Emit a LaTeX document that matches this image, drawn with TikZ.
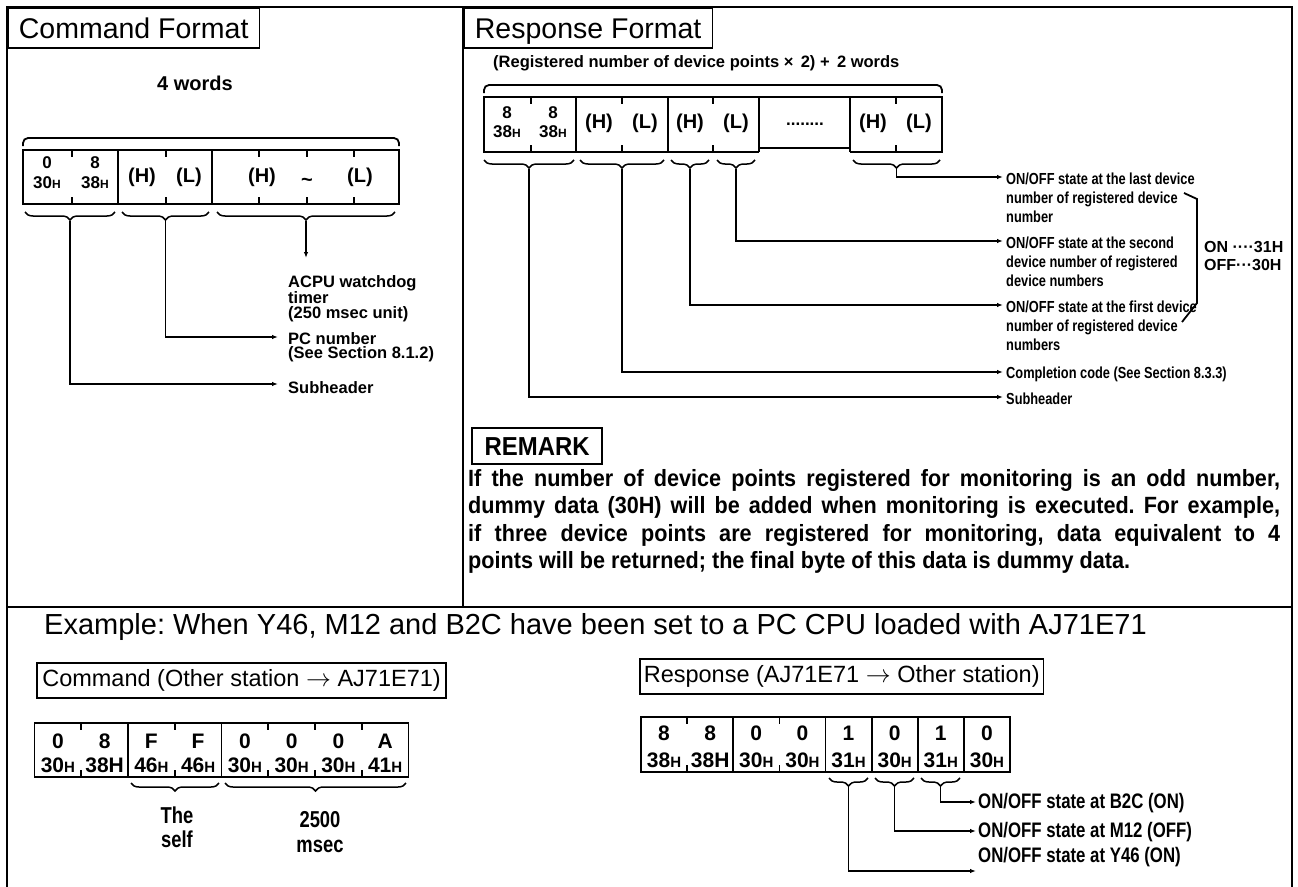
\documentclass[tikz,border=0pt]{standalone}
\usepackage{fontspec}
\setmainfont{Liberation Sans}
\newfontfamily\condfont{Liberation Sans}[FakeStretch=0.8]
\newfontfamily\remfont{Liberation Sans}[FakeStretch=0.92]
\usetikzlibrary{arrows.meta,decorations.pathreplacing}
\frenchspacing

\newcommand{\hH}{{\fontsize{12}{12}\selectfont H}}
\newcommand{\hX}{{\fontsize{15}{15}\selectfont H}}

\begin{document}
\begin{tikzpicture}[
  x=1pt, y=-1pt, >={Latex[length=6pt,width=4.5pt]},
  frame/.style={line width=2.6pt},
  tbl/.style={line width=1.8pt},
  arr/.style={->, line width=1.5pt},
  brc/.style={line width=1.5pt, decorate, decoration={brace, amplitude=8pt}},
  ttlbox/.style={draw, line width=1.8pt, inner xsep=11pt, inner ysep=0pt,
    text height=21pt, text depth=0pt, minimum height=40pt, font=\fontsize{28.5}{30}\selectfont},
  exbox/.style={draw, line width=1.6pt, inner xsep=4pt, inner ysep=0pt,
    minimum height=35pt, font=\fontsize{23.5}{25}\selectfont},
  cell/.style={inner sep=0pt, font=\bfseries\fontsize{17}{17}\selectfont},
  xcell/.style={inner sep=0pt, font=\bfseries\fontsize{21}{21}\selectfont},
  hl/.style={inner sep=0pt, font=\bfseries\fontsize{20}{20}\selectfont},
  lab/.style={inner sep=0pt, align=left, font=\bfseries\fontsize{16.5}{14.5}\selectfont},
  rlab/.style={inner sep=0pt, align=left, font=\condfont\bfseries\fontsize{16}{19}\selectfont},
  xlab/.style={inner sep=0pt, align=center, font=\condfont\bfseries\fontsize{21}{24}\selectfont},
]
\useasboundingbox (0,0) rectangle (1298,886);

% ── frame ────────────────────────────────────────────────────────────
\draw[frame] (7,7) rectangle (1292,900);
\draw[frame] (463,7) -- (463,607);
\draw[frame] (7,607) -- (1292,607);
\node[ttlbox, anchor=north west] (tCmdFmt) at (7,7) {Command Format};
\node[ttlbox, anchor=north west] (tResFmt) at (463,7) {Response Format};

% ── command format ───────────────────────────────────────────────────
\node[font=\bfseries\fontsize{20}{20}\selectfont] (nWords) at (195,83) {4 words};
\draw[tbl, rounded corners=5pt] (23,146) -- (23,138) -- (399,138) -- (399,146);
\draw[tbl] (23,150) rectangle (399,204);
\draw[tbl] (118,150) -- (118,204) (212,150) -- (212,204);
\foreach \x in {72,166,259,307,354}
  \draw[tbl] (\x,150) -- (\x,157) (\x,197) -- (\x,204);
\node[cell] (cD1) at (47,163) {0};
\node[cell] (cD2) at (95,163) {8};
\node[cell] (cX1) at (47,183) {30\hH};
\node[cell] (cX2) at (95,183) {38\hH};
\node[hl] (cH1) at (142,177) {(H)};
\node[hl] (cL1) at (189,177) {(L)};
\node[hl] (cH2) at (262,177) {(H)};
\node[hl] (cTl) at (307,182) {\textasciitilde};
\node[hl] (cL2) at (360,177) {(L)};

\draw[brc] (115,212) -- (25,212);
\draw[brc] (209,212) -- (122,212);
\draw[brc] (395,212) -- (217,212);
\coordinate (bSubC) at (70,221);
\coordinate (bPcC) at (165.5,221);
\coordinate (bWdC) at (306,221);
\coordinate (aSubC) at (278,384);
\coordinate (aPcC) at (278,337);
\coordinate (aWdC) at (306,258);

\node[lab, anchor=north west] (lWd) at (288,275) {ACPU watchdog\\timer\\(250 msec unit)};
\node[lab, anchor=north west] (lPc) at (288,332) {PC number\\(See Section 8.1.2)};
\node[lab, anchor=west] (lSubC) at (288,388) {Subheader};

\draw[arr] (bWdC) -- (aWdC);
\draw[arr] (bPcC) |- (aPcC);
\draw[arr] (bSubC) |- (aSubC);

% ── response format ──────────────────────────────────────────────────
\node[font=\bfseries\fontsize{16.5}{16.5}\selectfont, anchor=west, inner sep=0pt] (nRegW) at (493,63)
  {(Registered number of device points × \,2) + \,2 words};
\draw[tbl, rounded corners=5pt] (484,93) -- (484,85) -- (942,85) -- (942,93);
\draw[tbl] (759,152) -- (484,152) -- (484,97) -- (942,97) -- (942,152) -- (850,152);
\draw[tbl] (759,148) -- (850,148);
\draw[tbl] (576,97) -- (576,152) (668,97) -- (668,152) (759,97) -- (759,152) (850,97) -- (850,152);
\foreach \x in {531,622,713,896}
  \draw[tbl] (\x,97) -- (\x,104) (\x,145) -- (\x,152);
\node[cell] (rD1) at (507,113) {8};
\node[cell] (rD2) at (553,113) {8};
\node[cell] (rX1) at (507,132) {38\hH};
\node[cell] (rX2) at (553,132) {38\hH};
\node[hl] (rH1) at (599,123) {(H)};
\node[hl] (rL1) at (645,123) {(L)};
\node[hl] (rH2) at (690,123) {(H)};
\node[hl] (rL2) at (736,123) {(L)};
\node[cell] (rDots) at (805,124) {........};
\node[hl] (rH3) at (873,123) {(H)};
\node[hl] (rL3) at (919,123) {(L)};

\draw[brc] (574,160) -- (484,160);
\draw[brc] (664,160) -- (580,160);
\draw[brc] (709,160) -- (671,160);
\draw[brc] (755,160) -- (717,160);
\draw[brc] (940,160) -- (853,160);
\coordinate (bSubR) at (529,169);
\coordinate (bCode) at (622,169);
\coordinate (bFirst) at (690,169);
\coordinate (bSecond) at (736,169);
\coordinate (bLast) at (896.5,169);
\coordinate (aLast) at (1003,177);
\coordinate (aSecond) at (1003,241);
\coordinate (aFirst) at (1003,305);
\coordinate (aCode) at (1003,372);
\coordinate (aSubR) at (1003,397);

\node[rlab, anchor=north west] (lLast) at (1006,173)
  {ON/OFF state at the last device\\number of registered device\\number};
\node[rlab, anchor=north west] (lSecond) at (1006,237)
  {ON/OFF state at the second\\device number of registered\\device numbers};
\node[rlab, anchor=north west] (lFirst) at (1006,301)
  {ON/OFF state at the first device\\number of registered device\\numbers};
\node[rlab, anchor=west] (lCode) at (1006,374) {Completion code (See Section 8.3.3)};
\node[rlab, anchor=west] (lSubR) at (1006,399) {Subheader};

\draw[arr] (bLast) |- (aLast);
\draw[arr] (bSecond) |- (aSecond);
\draw[arr] (bFirst) |- (aFirst);
\draw[arr] (bCode) |- (aCode);
\draw[arr] (bSubR) |- (aSubR);

% bracket for the ON/OFF codes
\draw[tbl] (1184,193) -- (1197,199) -- (1197,303) -- (1182,322);
\node[font=\bfseries\fontsize{16}{16}\selectfont, anchor=west, inner sep=0pt] (nOn) at (1204,247) {ON ····31H};
\node[font=\bfseries\fontsize{16}{16}\selectfont, anchor=west, inner sep=0pt] (nOff) at (1204,265) {OFF···30H};

% ── remark ───────────────────────────────────────────────────────────
\node[draw, line width=2.4pt, anchor=north west, minimum width=130pt, minimum height=36pt,
  inner sep=0pt, font=\remfont\bfseries\fontsize{26}{26}\selectfont] (nRemark) at (471,427) {REMARK};
\node[anchor=north west, text width=812pt, align=justify, inner sep=0pt,
  font=\remfont\bfseries\fontsize{23.5}{27.5}\selectfont] (pRemark) at (468,469)
  {If the number of device points registered for monitoring is an odd number,\linebreak
   dummy data (30H) will be added when monitoring is executed. For example,\linebreak
   if three device points are registered for monitoring, data equivalent to 4\linebreak
   points will be returned; the final byte of this data is dummy data.};

% ── example ──────────────────────────────────────────────────────────
\node[font=\fontsize{29}{30}\selectfont, anchor=base west, inner sep=0pt] (tExample) at (44,634)
  {Example: When Y46, M12 and B2C have been set to a PC CPU loaded with AJ71E71};
\node[exbox, anchor=north west, inner xsep=5.5pt] (tExCmd) at (36,662)
  {Command (Other station $\rightarrow$ AJ71E71)};
\node[exbox, anchor=north west] (tExRes) at (639,658)
  {Response (AJ71E71 $\rightarrow$ Other station)};

% command bytes
\draw[tbl] (34.5,723) rectangle (408.5,777);
\draw[tbl] (128,723) -- (128,777) (221.5,723) -- (221.5,777);
\foreach \x in {81.25,174.75,268.25,315,361.75}
  \draw[tbl] (\x,723) -- (\x,730) (\x,770) -- (\x,777);
\foreach \d/\h [count=\i] in {0/30\hX,8/38H,F/46\hX,F/46\hX,0/30\hX,0/30\hX,0/30\hX,A/41\hX} {
  \node[xcell] (eD\i) at ({34.5+46.75*(\i-0.5)},741) {\d};
  \node[xcell] (eX\i) at ({34.5+46.75*(\i-0.5)},765) {\h};
}
\draw[brc] (219,783) -- (131,783);
\draw[brc] (406,783) -- (225,783);
\node[xlab, font=\condfont\bfseries\fontsize{23}{24}\selectfont] (nSelf) at (177,827) {The\\self};
\node[xlab, font=\condfont\bfseries\fontsize{23}{25}\selectfont] (nMsec) at (320,832) {2500\\msec};

% response bytes
\draw[tbl] (641,717) rectangle (1010,772);
\foreach \x in {733.25,825.5,871.6,917.75,963.9}
  \draw[tbl] (\x,717) -- (\x,772);
\foreach \x in {687.1,779.4}
  \draw[tbl] (\x,717) -- (\x,724) (\x,765) -- (\x,772);
\foreach \d/\h [count=\i] in {8/38\hX,8/38H,0/30\hX,0/30\hX,1/31\hX,0/30\hX,1/31\hX,0/30\hX} {
  \node[xcell] (fD\i) at ({641+46.125*(\i-0.5)},733) {\d};
  \node[xcell] (fX\i) at ({641+46.125*(\i-0.5)},760) {\h};
}
\draw[brc] (868,778) -- (829,778);
\draw[brc] (914,778) -- (875,778);
\draw[brc] (960,778) -- (921,778);
\coordinate (bY46) at (848.5,787);
\coordinate (bM12) at (894.5,787);
\coordinate (bB2C) at (940.5,787);
\coordinate (aB2C) at (976,802);
\coordinate (aM12) at (976,831);
\coordinate (aY46) at (976,871);

\node[xlab, anchor=west] (lB2C) at (978,803) {ON/OFF state at B2C (ON)};
\node[xlab, anchor=west] (lM12) at (978,832) {ON/OFF state at M12 (OFF)};
\node[xlab, anchor=west] (lY46) at (978,857) {ON/OFF state at Y46 (ON)};

\draw[arr] (bB2C) |- (aB2C);
\draw[arr] (bM12) |- (aM12);
\draw[arr] (bY46) |- (aY46);

\end{tikzpicture}
\end{document}
